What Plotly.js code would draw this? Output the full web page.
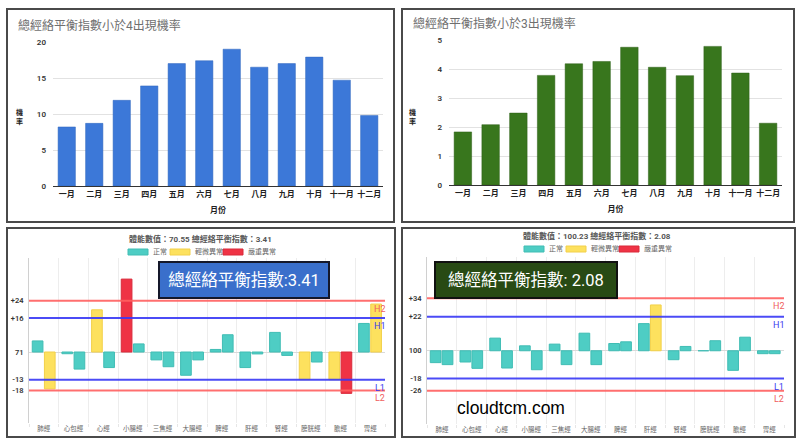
<!DOCTYPE html>
<html><head><meta charset="utf-8">
<script src="https://cdn.plot.ly/plotly-3.0.1.min.js"></script>
<style>html,body{margin:0;padding:0;background:#fff}#chart{width:800px;height:446px}</style>
</head><body><div id="chart"></div>
<script>
// ---------- data ----------
const months = ['一月','二月','三月','四月','五月','六月','七月','八月','九月','十月','十一月','十二月'];
const prob4 = [8.2, 8.7, 11.9, 13.9, 17.0, 17.4, 19.0, 16.5, 17.0, 17.9, 14.7, 9.8];
const prob3 = [1.83, 2.08, 2.48, 3.78, 4.18, 4.26, 4.75, 4.06, 3.77, 4.78, 3.86, 2.13];
const title4 = '總經絡平衡指數小於4出現機率';
const title3 = '總經絡平衡指數小於3出現機率';
const probAxisTitle = '機<br>率';
const monthAxisTitle = '月份';

const meridians = ['肺經','心包經','心經','小腸經','三焦經','大腸經','脾經','肝經','腎經','膀胱經','膽經','胃經'];
const leftA  = [5.2, -0.8, 19.8, 34.2, -3.7, -10.9, 1.2, -7.3, 9.2, -13.0, -13.0, 13.4];
const rightA = [-17.3, -8.0, -7.3, 3.8, -6.9, -3.7, 8.1, -0.9, -1.6, -4.7, -19.4, 22.5];
const statusLeftA  = [0,0,1,2,0,0,0,0,0,1,1,0];
const statusRightA = [1,0,0,0,0,0,0,0,0,0,2,1];
const thrA = [24, 16, -13, -18];
const thrTextA = ['+24','+16','-13','-18'];
const centerA = '71';
const headA = '體能數值：70.55 總經絡平衡指數：3.41';
const boxA = '總經絡平衡指數:3.41';

const leftB  = [-7.7, -7.3, 8.2, 3.2, 4.3, 11.4, 4.7, 17.6, -5.8, 0, -12.7, -1.9];
const rightB = [-9.0, -11.4, -11.2, -12.3, -9.0, -9.0, 5.8, 29.7, 2.8, 6.5, 8.8, -1.9];
const statusLeftB  = [0,0,0,0,0,0,0,0,0,0,0,0];
const statusRightB = [0,0,0,0,0,0,0,1,0,0,0,0];
const thrB = [34, 22, -18, -26];
const thrTextB = ['+34','+22','-18','-26'];
const centerB = '100';
const headB = '體能數值：100.23 總經絡平衡指數：2.08';
const boxB = '總經絡平衡指數: 2.08';

const thrNames = ['H2','H1','L1','L2'];
const statusNames = ['正常','輕微異常','嚴重異常'];
const watermark = 'cloudtcm.com';

// ---------- styles ----------
const W = 800, H = 446;
const px = x => x / W;
const py = y => 1 - y / H;
const FONT = 'Roboto, "Noto Sans CJK TC", sans-serif';
const statusColors = ['#4ecdc4', '#fde15e', '#ef3345'];
const statusLines  = ['#40bdb4', '#f2d04a', '#d92b3b'];
const thrColors = ['rgba(255,95,95,0.9)', 'rgba(55,55,245,0.9)', 'rgba(55,55,245,0.9)', 'rgba(255,95,95,0.9)'];
const thrLabelColors = ['#f06060', '#3a3af0', '#3a3af0', '#f06060'];

const traces = [
  {type:'bar', x: months, y: prob4, xaxis:'x', yaxis:'y', width:0.63,
   marker:{color:'#3c78d8', line:{color:'#2f65bd', width:0.5}}, showlegend:false, hoverinfo:'x+y'},
  {type:'bar', x: months, y: prob3, xaxis:'x2', yaxis:'y2', width:0.63,
   marker:{color:'#38761d', line:{color:'#2c5e16', width:0.5}}, showlegend:false, hoverinfo:'x+y'},
  {type:'bar', x: meridians, y: leftA, xaxis:'x3', yaxis:'y3', width:0.36, offset:-0.39,
   marker:{color: statusLeftA.map(s=>statusColors[s]), line:{color: statusLeftA.map(s=>statusLines[s]), width:1}}, showlegend:false},
  {type:'bar', x: meridians, y: rightA, xaxis:'x3', yaxis:'y3', width:0.36, offset:0.02,
   marker:{color: statusRightA.map(s=>statusColors[s]), line:{color: statusRightA.map(s=>statusLines[s]), width:1}}, showlegend:false},
  {type:'bar', x: meridians, y: leftB, xaxis:'x4', yaxis:'y4', width:0.36, offset:-0.39,
   marker:{color: statusLeftB.map(s=>statusColors[s]), line:{color: statusLeftB.map(s=>statusLines[s]), width:1}}, showlegend:false},
  {type:'bar', x: meridians, y: rightB, xaxis:'x4', yaxis:'y4', width:0.36, offset:0.01,
   marker:{color: statusRightB.map(s=>statusColors[s]), line:{color: statusRightB.map(s=>statusLines[s]), width:1}}, showlegend:false}
];

function topX(domain, anchor){
  return {domain, anchor, type:'category', showgrid:false, showline:true, linecolor:'#333', linewidth:1,
    ticks:'', tickangle:0, tickfont:{size:8, color:'#222', family:FONT, weight:600},
    title:{text: monthAxisTitle, font:{size:8, color:'#222', family:FONT, weight:600}, standoff:9}};
}
function topY(domain, anchor, range, dtick){
  return {domain, anchor, range, dtick, showgrid:true, gridcolor:'#e2e2e2', zeroline:false, showline:false,
    ticks:'', ticklabelstandoff:6, tickfont:{size:8, color:'#333', family:FONT, weight:600}};
}
function botX(domain, anchor){
  return {domain, anchor, type:'category', tickson:'boundaries', showgrid:true, gridcolor:'#ededed', gridwidth:1,
    showline:false, ticks:'outside', ticklen:3, tickcolor:'#e6e6e6', tickangle:0,
    tickfont:{size:6.5, color:'#666', family:FONT}};
}
function botY(domain, anchor, range, thr, thrText, center){
  return {domain, anchor, range, tickmode:'array', tickvals: thr.concat([0]), ticktext: thrText.concat([center]),
    showgrid:false, zeroline:true, zerolinecolor:'#dadada', zerolinewidth:1,
    showline:true, linecolor:'#d0d0d0', linewidth:1, ticks:'', ticklabelstandoff:3,
    tickfont:{size:7.5, color:'#333', family:FONT, weight:600}};
}

const shapes = [];
const annotations = [];
const ann = o => annotations.push(Object.assign({xref:'paper', yref:'paper', showarrow:false, xanchor:'center', yanchor:'middle'}, o));

// panel borders
[[7,9,394,222],[402,9,794,222],[7,228,395,437],[402,228,795,437]].forEach(b=>{
  shapes.push({type:'rect', xref:'paper', yref:'paper', x0:px(b[0]), x1:px(b[2]), y0:py(b[3]), y1:py(b[1]),
    line:{color:'#4a4a4a', width:2}, fillcolor:'rgba(0,0,0,0)', layer:'above'});
});

// top titles
ann({x:px(16), y:py(25), xanchor:'left', text:title4, font:{size:12, color:'#6f6f6f', family:FONT}});
ann({x:px(411), y:py(23), xanchor:'left', text:title3, font:{size:12, color:'#6f6f6f', family:FONT}});
// stacked y titles
ann({x:px(19), y:py(117), text:probAxisTitle, font:{size:7, color:'#222', family:FONT, weight:700}});
ann({x:px(412), y:py(117), text:probAxisTitle, font:{size:7, color:'#222', family:FONT, weight:700}});

// threshold lines for bottom panels
function addThresholds(thr, xr, yr, lblX){
  thr.forEach((v,i)=>{
    shapes.push({type:'line', xref: xr+' domain', x0:0, x1:1, yref: yr, y0:v, y1:v,
      line:{color: thrColors[i], width:2}, layer:'above'});
    annotations.push({xref: xr+' domain', x: lblX, yref: yr, y: v, xanchor:'right', yanchor:'top', yshift:-1,
      showarrow:false, text: thrNames[i], font:{size:9, color: thrLabelColors[i], family:FONT}});
  });
}
addThresholds(thrA, 'x3', 'y3', 1.006);
addThresholds(thrB, 'x4', 'y4', 1.006);

// bottom headers
ann({x:px(200), y:py(239), text:headA, font:{size:8, color:'#555', family:FONT, weight:700}});
ann({x:px(597), y:py(236), text:headB, font:{size:8, color:'#555', family:FONT, weight:700}});

// manual legends
function addLegend(xs, y){
  statusNames.forEach((n,i)=>{
    shapes.push({type:'rect', xref:'paper', yref:'paper', x0:px(xs[i]), x1:px(xs[i]+20), y0:py(y+3), y1:py(y-3),
      fillcolor: statusColors[i], line:{color: statusLines[i], width:1}});
    ann({x:px(xs[i]+23), y:py(y), xanchor:'left', text:n, font:{size:7, color:'#666', family:FONT}});
  });
}
addLegend([128,170,223], 252);
addLegend([524,566,619], 249);

// overlay boxes
ann({x:px(244), y:py(280), text:boxA, width:166, height:32, bgcolor:'#3a6fcb', bordercolor:'#15182a',
  borderwidth:2, borderpad:1, font:{size:16.5, color:'#ffffff', family:FONT}});
ann({x:px(526), y:py(280), text:boxB, width:178, height:32, bgcolor:'#284a14', bordercolor:'#111',
  borderwidth:2, borderpad:1, font:{size:16.5, color:'#ffffff', family:FONT}});

// watermark
ann({x:px(455), y:py(408), xanchor:'left', text:watermark,
  font:{size:17.5, color:'#000', family:'"Liberation Sans", Arial, sans-serif'}});

const layout = {
  width: W, height: H, margin:{l:0, r:0, t:0, b:0},
  paper_bgcolor:'#ffffff', plot_bgcolor:'#ffffff',
  barmode:'overlay', showlegend:false,
  font:{family:FONT},
  xaxis: topX([px(53), px(383)], 'y'),
  yaxis: topY([py(186), py(42)], 'x', [0,20], 5),
  xaxis2: topX([px(449), px(782)], 'y2'),
  yaxis2: topY([py(185), py(40)], 'x2', [0,5], 1),
  xaxis3: botX([px(29), px(385)], 'y3'),
  yaxis3: botY([py(423), py(258)], 'x3', [-33.3, 44.1], thrA, thrTextA, centerA),
  xaxis4: botX([px(427), px(784)], 'y4'),
  yaxis4: botY([py(424), py(257)], 'x4', [-47.5, 60.8], thrB, thrTextB, centerB),
  shapes, annotations
};

Plotly.newPlot('chart', traces, layout, {displayModeBar:false, staticPlot:true});
</script>
</body></html>
